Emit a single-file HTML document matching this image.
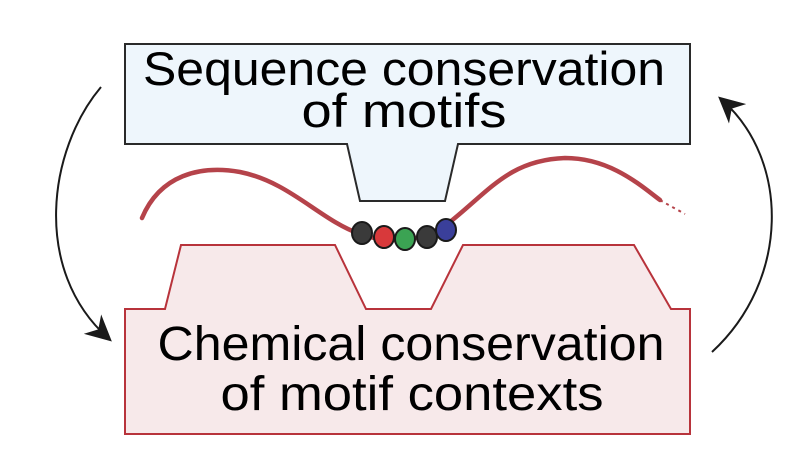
<!DOCTYPE html>
<html><head><meta charset="utf-8"><style>html,body{margin:0;padding:0;background:#fff}svg{display:block}</style></head>
<body>
<svg width="796" height="476" viewBox="0 0 796 476" xmlns="http://www.w3.org/2000/svg">
<defs>
<marker id="ah2" viewBox="0 0 10 10" refX="8" refY="5" markerWidth="26" markerHeight="26" orient="auto" markerUnits="userSpaceOnUse">
<path d="M0,0 L10,5 L0,10 L3,5 Z" fill="#1a1a1a"/></marker>
</defs>
<path d="M125,44 H690 V144 H458 L445,201 H360 L347,144 H125 Z" fill="#eef6fc" stroke="#2a2a2a" stroke-width="2"/>
<text x="404" y="85" font-family="Liberation Sans, sans-serif" font-size="47" text-anchor="middle" textLength="522" lengthAdjust="spacingAndGlyphs">Sequence conservation</text>
<text x="404" y="127" font-family="Liberation Sans, sans-serif" font-size="47" text-anchor="middle" textLength="205" lengthAdjust="spacingAndGlyphs">of motifs</text>
<path d="M125,309 H165 L181,245 H335 L366,309 H431 L463,245 H634 L671,309 H690 V434 H125 Z" fill="#f7e9ea" stroke="#b8333b" stroke-width="2"/>
<text x="411" y="360" font-family="Liberation Sans, sans-serif" font-size="48" text-anchor="middle" textLength="507" lengthAdjust="spacingAndGlyphs">Chemical conservation</text>
<text x="412" y="410" font-family="Liberation Sans, sans-serif" font-size="48" text-anchor="middle" textLength="383" lengthAdjust="spacingAndGlyphs">of motif contexts</text>
<path d="M142,218 C160,175 200,165 240,172 C290,182 320,220 360,234 C395,246 425,240 450,222 C490,190 510,160 565,158 C610,158 640,185 660,200" fill="none" stroke="#b5434a" stroke-width="4.5" stroke-linecap="round"/>
<path d="M660,200 C670,206 678,210 685,214" fill="none" stroke="#b5434a" stroke-width="2" stroke-dasharray="3 4"/>
<g stroke="#1a1a1a" stroke-width="2">
<ellipse cx="362" cy="233" rx="10" ry="11" fill="#3a3a3a"/>
<ellipse cx="384" cy="237" rx="10" ry="11" fill="#d8393b"/>
<ellipse cx="405" cy="239" rx="10" ry="11" fill="#3ba353"/>
<ellipse cx="427" cy="237" rx="10" ry="11" fill="#3a3a3a"/>
<ellipse cx="446" cy="230" rx="10" ry="11" fill="#3a3f9a"/>
</g>
<path d="M101,87 C48,150 32,270 108,338" fill="none" stroke="#1a1a1a" stroke-width="2" marker-end="url(#ah2)"/>
<path d="M712,352 C790,280 790,160 722,100" fill="none" stroke="#1a1a1a" stroke-width="2" marker-end="url(#ah2)"/>
</svg>
</body></html>
